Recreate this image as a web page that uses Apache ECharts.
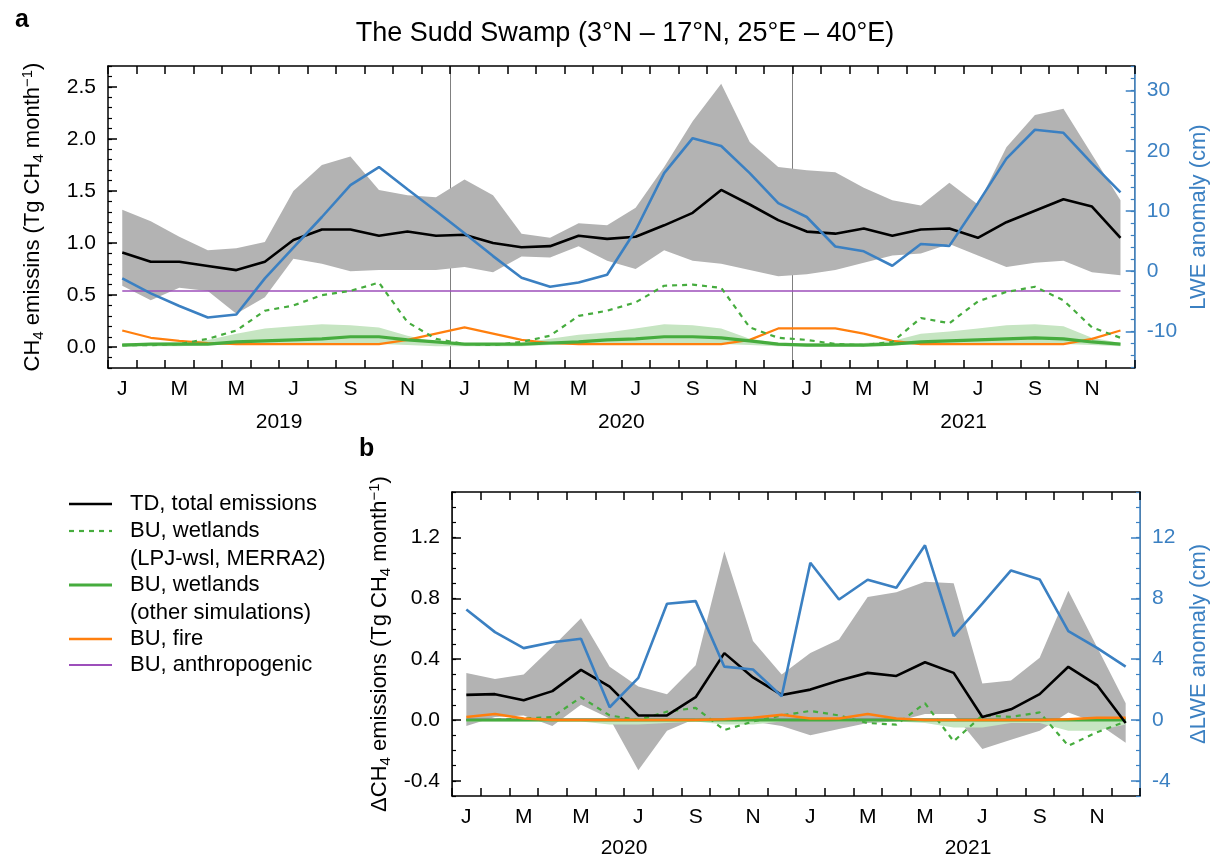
<!DOCTYPE html>
<html>
<head>
<meta charset="utf-8">
<script src="https://cdn.jsdelivr.net/npm/echarts@6/dist/echarts.min.js"></script>
<style>
html,body{margin:0;padding:0;background:#fff;}
#chart{width:1218px;height:859px;}
</style>
</head>
<body>
<div id="chart"></div>
<script>
// ---------- categories & tick labels ----------
const monthLetters = ['J','F','M','A','M','J','J','A','S','O','N','D'];
const yearsA = ['2019','2020','2021'];
const yearsB = ['2020','2021'];
const yTicksA = [0, 0.5, 1.0, 1.5, 2.0, 2.5];
const yTicksLweA = [-10, 0, 10, 20, 30];
const yTicksB = [-0.4, 0, 0.4, 0.8, 1.2];
const yTicksLweB = [-4, 0, 4, 8, 12];

// ---------- panel a (monthly, Jan 2019 - Dec 2021) ----------
const tdA      = [0.91,0.82,0.82,0.78,0.74,0.82,1.03,1.13,1.13,1.07,1.11,1.07,1.08,1.00,0.96,0.97,1.07,1.04,1.06,1.17,1.29,1.51,1.37,1.22,1.11,1.09,1.14,1.07,1.13,1.14,1.05,1.20,1.31,1.42,1.35,1.05];
const tdUpperA = [1.32,1.21,1.06,0.93,0.95,1.01,1.50,1.75,1.83,1.51,1.46,1.44,1.61,1.46,1.09,1.05,1.19,1.17,1.34,1.73,2.17,2.53,1.97,1.73,1.70,1.68,1.53,1.41,1.36,1.58,1.37,1.92,2.23,2.29,1.85,1.41];
const tdLowerA = [0.59,0.45,0.57,0.54,0.32,0.48,0.85,0.80,0.73,0.74,0.74,0.74,0.77,0.72,0.87,0.86,0.97,0.83,0.75,0.93,0.83,0.80,0.74,0.68,0.70,0.74,0.81,0.88,0.90,0.99,0.88,0.77,0.81,0.83,0.72,0.69];
const lweA     = [-1.2,-3.7,-5.8,-7.7,-7.2,-1.2,3.9,9.0,14.3,17.3,13.6,10.0,6.3,2.5,-1.1,-2.6,-1.9,-0.6,6.8,16.3,22.1,20.8,16.3,11.3,9.0,4.1,3.3,0.9,4.5,4.2,11.3,18.7,23.5,23.0,17.9,13.1];
const lpjA     = [0.02,0.02,0.03,0.08,0.16,0.35,0.40,0.50,0.54,0.62,0.24,0.08,0.03,0.02,0.05,0.11,0.30,0.35,0.43,0.59,0.60,0.57,0.19,0.09,0.07,0.03,0.02,0.05,0.28,0.23,0.44,0.53,0.58,0.45,0.19,0.09];
const wetOtherA= [0.02,0.03,0.03,0.03,0.05,0.06,0.07,0.08,0.10,0.10,0.07,0.05,0.03,0.03,0.03,0.04,0.05,0.07,0.08,0.10,0.10,0.09,0.06,0.03,0.02,0.02,0.02,0.03,0.05,0.06,0.07,0.08,0.09,0.08,0.05,0.03];
const wetUpperA= [0.04,0.04,0.05,0.07,0.13,0.18,0.20,0.22,0.21,0.19,0.11,0.05,0.04,0.04,0.04,0.08,0.12,0.14,0.18,0.22,0.21,0.18,0.08,0.04,0.04,0.04,0.04,0.06,0.13,0.15,0.18,0.21,0.22,0.20,0.09,0.04];
const wetLowerA= [0.01,0.01,0.01,0.02,0.02,0.03,0.03,0.03,0.03,0.03,0.02,0.01,0.01,0.01,0.01,0.02,0.02,0.03,0.03,0.03,0.03,0.03,0.02,0.01,0.01,0.01,0.01,0.02,0.02,0.03,0.03,0.03,0.03,0.03,0.02,0.01];
const fireA    = [0.16,0.09,0.06,0.04,0.03,0.03,0.03,0.03,0.03,0.03,0.07,0.13,0.19,0.13,0.07,0.04,0.03,0.03,0.03,0.03,0.03,0.03,0.07,0.18,0.18,0.18,0.13,0.06,0.03,0.03,0.03,0.03,0.03,0.03,0.08,0.16];
const anthroA  = [0.54,0.54,0.54,0.54,0.54,0.54,0.54,0.54,0.54,0.54,0.54,0.54,0.54,0.54,0.54,0.54,0.54,0.54,0.54,0.54,0.54,0.54,0.54,0.54,0.54,0.54,0.54,0.54,0.54,0.54,0.54,0.54,0.54,0.54,0.54,0.54];

// ---------- panel b (anomalies, Jan 2020 - Dec 2021) ----------
const tdB      = [0.165,0.17,0.13,0.19,0.33,0.22,0.03,0.03,0.15,0.44,0.28,0.165,0.20,0.26,0.31,0.29,0.38,0.31,0.02,0.07,0.17,0.35,0.23,-0.02];
const tdUpperB = [0.31,0.27,0.30,0.48,0.67,0.35,0.22,0.17,0.36,1.11,0.52,0.30,0.44,0.53,0.81,0.84,0.91,0.90,0.24,0.26,0.41,0.85,0.48,0.11];
const tdLowerB = [-0.04,0.02,0.03,-0.04,0.10,0.01,-0.33,-0.07,0.01,-0.01,-0.01,-0.04,-0.10,-0.06,-0.02,-0.01,0.04,0.04,-0.19,-0.13,-0.07,0.05,-0.02,-0.15];
const lweB     = [7.27,5.78,4.73,5.12,5.34,0.84,2.77,7.65,7.82,3.51,3.32,1.56,10.35,7.93,9.23,8.70,11.49,5.52,7.65,9.84,9.25,5.85,4.75,3.51];
const lpjB     = [0.00,0.00,0.01,0.02,0.15,0.03,0.00,0.055,0.08,-0.066,-0.01,0.03,0.06,0.03,-0.02,-0.03,0.11,-0.14,0.03,0.02,0.05,-0.17,-0.08,-0.01];
const wetOtherB= [0.00,0.00,0.00,0.00,0.00,0.00,0.00,0.00,0.00,0.00,0.00,0.00,0.00,0.00,0.00,0.00,0.00,0.00,0.00,0.00,0.00,0.00,0.00,0.00];
const wetUpperB= [0.01,0.01,0.01,0.01,0.01,0.01,0.01,0.01,0.01,0.01,0.01,0.01,0.01,0.01,0.01,0.01,0.01,0.01,0.01,0.01,0.01,0.01,0.01,0.01];
const wetLowerB= [-0.01,-0.01,-0.01,-0.01,-0.01,-0.03,-0.03,-0.02,-0.01,-0.03,-0.03,-0.01,0.00,-0.01,-0.01,-0.01,-0.02,-0.05,-0.05,-0.02,-0.02,-0.07,-0.07,-0.03];
const fireB    = [0.02,0.04,0.01,0.00,0.00,0.00,0.00,0.00,0.00,0.005,0.015,0.035,0.01,0.01,0.04,0.01,0.00,0.00,0.00,0.00,0.00,0.005,0.015,0.015];
const anthroB  = [0.005,0.005,0.005,0.005,0.005,0.005,0.005,0.005,0.005,0.005,0.005,0.005,0.005,0.005,0.005,0.005,0.005,0.005,0.005,0.005,0.005,0.005,0.005,0.005];

// ---------- styles ----------
const FONT = 'Liberation Sans';
const C_BLUE = '#3b80c2', C_GRAY = '#b3b3b3', C_GREEN = '#46ac3e', C_LGREEN = '#c6e5c2',
      C_ORANGE = '#ff7f0e', C_PURPLE = '#9d4fbb', C_SEP = '#808080';

function monthsFor(years){ const out=[]; years.forEach(y=>monthLetters.forEach((m,i)=>out.push(y+'-'+(i+1)))); return out; }
function range(a,b,s){ const out=[]; const n=Math.round((b-a)/s); for(let i=0;i<=n;i++) out.push(+(a+i*s).toFixed(4)); return out; }
function diff(u,l){ return u.map((v,i)=>+(v-l[i]).toFixed(4)); }
const catsA = monthsFor(yearsA), catsB = monthsFor(yearsB);
const letterOf = v => monthLetters[(+v.split('-')[1]) - 1];

const rich = {
  n:{fontSize:22,fontFamily:FONT,lineHeight:26},
  sub:{fontSize:15,fontFamily:FONT,lineHeight:14,verticalAlign:'bottom'},
  sup:{fontSize:15,fontFamily:FONT,lineHeight:14,verticalAlign:'top'}
};
function richFor(color){ const r=JSON.parse(JSON.stringify(rich)); Object.keys(r).forEach(k=>r[k].color=color); return r; }

// ticks point into the plot: negative length on an outward tick
function xAxes(grid, cats, years, sepFn, yearMargin){
  return [
    {type:'category',gridIndex:grid,position:'bottom',data:cats,boundaryGap:true,
     axisLine:{show:true,onZero:false,lineStyle:{color:'#000',width:1.5}},
     axisTick:{show:true,inside:false,length:-8,interval:0,lineStyle:{color:'#000',width:1.5}},
     axisLabel:{show:true,interval:1,margin:11,fontSize:21,fontFamily:FONT,color:'#000',formatter:letterOf},
     splitLine:{show:true,interval:sepFn,lineStyle:{color:C_SEP,width:1}}},
    {type:'category',gridIndex:grid,position:'top',data:cats,boundaryGap:true,
     axisLine:{show:true,onZero:false,lineStyle:{color:'#000',width:1.5}},
     axisTick:{show:true,inside:false,length:-8,interval:0,lineStyle:{color:'#000',width:1.5}},
     axisLabel:{show:false},splitLine:{show:false}},
    {type:'category',gridIndex:grid,position:'bottom',data:years,boundaryGap:true,
     axisLine:{show:false,onZero:false},axisTick:{show:false},
     axisLabel:{show:true,margin:yearMargin,fontSize:21,fontFamily:FONT,color:'#000'},splitLine:{show:false}}
  ];
}
function yPair(grid, pos, min, max, majors, minors, color, fmt, name, nameGap, richStyle){
  return [
    {type:'value',gridIndex:grid,position:pos,min:min,max:max,
     name:name,nameLocation:'middle',nameRotate:90,nameGap:nameGap,
     nameTextStyle:{fontSize:22,fontFamily:FONT,color:color,rich:richStyle},
     axisLine:{show:true,onZero:false,lineStyle:{color:color,width:1.5}},
     axisTick:{show:true,inside:false,length:-9,customValues:majors,lineStyle:{color:color,width:1.5}},
     axisLabel:{show:true,customValues:majors,margin:12,fontSize:21,fontFamily:FONT,color:color,formatter:fmt},
     splitLine:{show:false}},
    {type:'value',gridIndex:grid,position:pos,min:min,max:max,
     axisLine:{show:false,onZero:false},
     axisTick:{show:true,inside:false,length:-4,customValues:minors,lineStyle:{color:color,width:1.2}},
     axisLabel:{show:false},splitLine:{show:false}}
  ];
}

function line(name,x,y,data,color,width,extra){
  return Object.assign({name:name,type:'line',xAxisIndex:x,yAxisIndex:y,data:data,symbol:'none',
    lineStyle:{color:color,width:width},itemStyle:{color:color},z:3,silent:true},extra||{});
}
function band(id,x,y,lower,upper,color,z){
  return [
    {type:'line',xAxisIndex:x,yAxisIndex:y,data:lower,stack:id,stackStrategy:'all',symbol:'none',
     lineStyle:{opacity:0},silent:true,z:z},
    {type:'line',xAxisIndex:x,yAxisIndex:y,data:diff(upper,lower),stack:id,stackStrategy:'all',symbol:'none',
     lineStyle:{opacity:0},areaStyle:{color:color,opacity:1},silent:true,z:z}
  ];
}

const sepA = (i)=> i>0 && i%12===0;
const f1 = v => (+v).toFixed(1);
const f0 = v => String(Math.round(+v));

const nameA = '{n|CH}{sub|4}{n| emissins (Tg CH}{sub|4}{n| month}{sup|−1}{n|)}';
const nameB = '{n|ΔCH}{sub|4}{n| emissions (Tg CH}{sub|4}{n| month}{sup|−1}{n|)}';

const xA = xAxes(0, catsA, yearsA, sepA, 44);
const xB = xAxes(1, catsB, yearsB, sepA, 42);
const yA = yPair(0,'left',-0.2,2.7,yTicksA,range(-0.2,2.7,0.1),'#000',f1,nameA,62,richFor('#000'));
const yA2 = yPair(0,'right',-16.1,34.1,yTicksLweA,range(-16,34,2),C_BLUE,f0,'LWE anomaly (cm)',48,undefined);
const yB = yPair(1,'left',-0.5,1.5,yTicksB,range(-0.5,1.5,0.1),'#000',f1,nameB,56,richFor('#000'));
const yB2 = yPair(1,'right',-5,15,yTicksLweB,range(-5,15,1),C_BLUE,f0,'ΔLWE anomaly (cm)',48,undefined);

// axis indices: x: A=0,1,2  B=3,4,5 ; y: A left 0(1), A right 2(3), B left 4(5), B right 6(7)
const series = [].concat(
  band('tdA',0,0,tdLowerA,tdUpperA,C_GRAY,1),
  [line('BU, anthropogenic',0,0,anthroA,C_PURPLE,1.6)],
  band('wetA',0,0,wetLowerA,wetUpperA,C_LGREEN,2),
  [line('BU, fire',0,0,fireA,C_ORANGE,2.2),
   line('BU, wetlands (LPJ-wsl, MERRA2)',0,0,lpjA,C_GREEN,2.2,{lineStyle:{color:C_GREEN,width:2.2,type:[5,5]}}),
   line('BU, wetlands (other simulations)',0,0,wetOtherA,C_GREEN,3.2),
   line('TD, total emissions',0,0,tdA,'#000',2.6),
   line('LWE',0,2,lweA,C_BLUE,2.6)],
  band('tdB',3,4,tdLowerB,tdUpperB,C_GRAY,1),
  band('wetB',3,4,wetLowerB,wetUpperB,C_LGREEN,2),
  [line('BU, anthropogenic b',3,4,anthroB,C_PURPLE,1.6),
   line('BU, wetlands (LPJ-wsl, MERRA2) b',3,4,lpjB,C_GREEN,2.2,{lineStyle:{color:C_GREEN,width:2.2,type:[5,5]}}),
   line('BU, wetlands (other simulations) b',3,4,wetOtherB,C_GREEN,3.2),
   line('BU, fire b',3,4,fireB,C_ORANGE,2.6),
   line('TD, total emissions b',3,4,tdB,'#000',2.6),
   line('ΔLWE',3,6,lweB,C_BLUE,2.6)]
);

// legend (drawn as graphic elements)
const legendItems = [
  {y:504, lines:['TD, total emissions'], color:'#000', dash:null, w:2.6},
  {y:531, lines:['BU, wetlands','(LPJ-wsl, MERRA2)'], color:C_GREEN, dash:[5,5], w:2.2},
  {y:585, lines:['BU, wetlands','(other simulations)'], color:C_GREEN, dash:null, w:3},
  {y:639, lines:['BU, fire'], color:C_ORANGE, dash:null, w:2.4},
  {y:665, lines:['BU, anthropogenic'], color:C_PURPLE, dash:null, w:1.8}
];
const graphics = [];
legendItems.forEach(it=>{
  graphics.push({type:'line',shape:{x1:69,y1:it.y,x2:112,y2:it.y},
    style:{stroke:it.color,lineWidth:it.w,lineDash:it.dash||null}});
  it.lines.forEach((t,k)=>graphics.push({type:'text',x:130,y:it.y+k*27.5,
    style:{text:t,fontSize:22,fontFamily:FONT,fill:'#000',textVerticalAlign:'middle'}}));
});
graphics.push({type:'text',x:15,y:8,style:{text:'a',fontSize:25,fontWeight:'bold',fontFamily:FONT,fill:'#000'}});
graphics.push({type:'text',x:359,y:437,style:{text:'b',fontSize:25,fontWeight:'bold',fontFamily:FONT,fill:'#000'}});
graphics.push({type:'text',x:625,y:34,style:{text:'The Sudd Swamp (3°N – 17°N, 25°E – 40°E)',fontSize:27,fontFamily:FONT,fill:'#000',textAlign:'center',textVerticalAlign:'middle'}});

const chart = echarts.init(document.getElementById('chart'), null, {renderer:'canvas'});
chart.setOption({
  animation:false,
  backgroundColor:'#fff',
  grid:[{left:108,top:66,width:1033,height:302},{left:452,top:492,width:689,height:304}],
  xAxis:[].concat(xA,xB),
  yAxis:[].concat(yA,yA2,yB,yB2),
  series:series,
  graphic:graphics
});
</script>
</body>
</html>
